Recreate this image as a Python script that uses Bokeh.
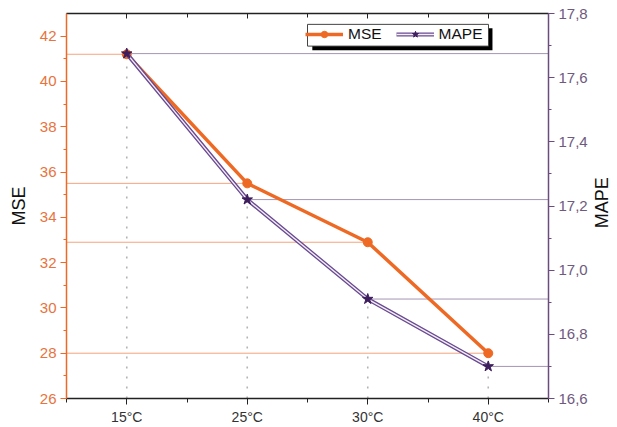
import math
from bokeh.plotting import figure
from bokeh.models import (Range1d, LinearAxis, FixedTicker, CustomJSTickFormatter,
                          Legend, LegendItem, ColumnDataSource, Label)
from bokeh.embed import file_html
from bokeh.resources import INLINE

# ---- data ----
temps = ["15°C", "25°C", "30°C", "40°C"]
mse = [41.2, 35.5, 32.9, 28.0]
mape = [17.675, 17.22, 16.91, 16.70]

mse_ticks = [26, 28, 30, 32, 34, 36, 38, 40, 42]
mape_ticks = [16.6, 16.8, 17.0, 17.2, 17.4, 17.6, 17.8]

ORANGE = "#EE6A24"
ORANGE_TXT = "#E8733D"
PURPLE_AX = "#6B4C7E"
PURPLE_TXT = "#6E5A80"
PURPLE_LINE = "#6A4A90"
STAR = "#3D1D5C"
FONT = "Liberation Sans"

xs = list(range(len(temps)))
x_lo, x_hi = -0.5, len(temps) - 0.5
y_lo, y_hi = 26, 43
m_lo, m_hi = 16.6, 17.8

p = figure(width=617, height=427, output_backend="svg", toolbar_location=None,
           x_range=Range1d(x_lo, x_hi), y_range=Range1d(y_lo, y_hi),
           min_border_left=66, min_border_right=69, min_border_top=13,
           min_border_bottom=26, x_axis_location=None, y_axis_location=None)
p.extra_y_ranges = {"mape": Range1d(m_lo, m_hi)}
p.outline_line_color = None
p.xgrid.visible = False
p.ygrid.visible = False
p.background_fill_color = "white"
p.border_fill_color = "white"

src = ColumnDataSource(dict(x=xs, mse=mse, mape=mape,
                            xl=[x_lo] * len(xs), xr=[x_hi] * len(xs),
                            mb=[m_lo] * len(xs)))

# drop lines
p.segment(x0="xl", y0="mse", x1="x", y1="mse", source=src,
          line_color="#F4A47E", line_width=1)
p.segment(x0="x", y0="mape", x1="xr", y1="mape", source=src,
          line_color="#A495B5", line_width=1, y_range_name="mape")
p.segment(x0="x", y0="mb", x1="x", y1="mape", source=src,
          line_color="#B4B4B4", line_width=1.6, line_dash="2 8",
          y_range_name="mape")

# MSE series
r_mse_l = p.line("x", "mse", source=src, line_color=ORANGE, line_width=3.5)
r_mse_m = p.scatter("x", "mse", source=src, marker="circle", size=9,
                    fill_color=ORANGE, line_color=ORANGE)

# MAPE series (double line)
r_mape_o = p.line("x", "mape", source=src, line_color=PURPLE_LINE,
                  line_width=4, y_range_name="mape")
r_mape_i = p.line("x", "mape", source=src, line_color="#F4EEF8",
                  line_width=1.4, y_range_name="mape")
r_mape_m = p.scatter("x", "mape", source=src, marker="star", size=11,
                     fill_color=STAR, line_color=STAR, y_range_name="mape")

# legend frame with drop shadow (decoration, in data space)
p.quad(left=[1.54], right=[3.035], top=[42.35], bottom=[41.38],
       fill_color="black", line_color=None)
p.quad(left=[1.50], right=[3.002], top=[42.52], bottom=[41.56],
       fill_color="white", line_color="#444444", line_width=1)

# axes
left = LinearAxis(ticker=FixedTicker(ticks=mse_ticks,
                                     minor_ticks=[v + 1 for v in mse_ticks[:-1]]),
                  axis_label="MSE")
left.axis_line_color = ORANGE
left.axis_line_width = 1.5
left.major_tick_line_color = ORANGE
left.minor_tick_line_color = ORANGE
left.major_tick_out = 6
left.major_tick_in = 0
left.minor_tick_out = 3
left.minor_tick_in = 0
left.major_label_text_color = ORANGE_TXT
left.major_label_text_font = FONT
left.major_label_text_font_size = "15px"
left.major_label_standoff = 4
left.axis_label_text_font = FONT
left.axis_label_text_font_size = "18px"
left.axis_label_text_font_style = "normal"
left.axis_label_text_color = "#111111"
left.axis_label_standoff = 8
p.add_layout(left, "left")

right = LinearAxis(y_range_name="mape",
                   ticker=FixedTicker(ticks=mape_ticks,
                                      minor_ticks=[round(v + 0.1, 1) for v in mape_ticks[:-1]]),
                   formatter=CustomJSTickFormatter(code="return tick.toFixed(1).replace('.', ',');"))
right.axis_line_color = PURPLE_AX
right.axis_line_width = 1.5
right.major_tick_line_color = PURPLE_AX
right.minor_tick_line_color = PURPLE_AX
right.major_tick_out = 6
right.major_tick_in = 0
right.minor_tick_out = 3
right.minor_tick_in = 0
right.major_label_text_color = PURPLE_TXT
right.major_label_text_font = FONT
right.major_label_text_font_size = "15px"
right.major_label_standoff = 4
p.add_layout(right, "right")

# right axis title, reading bottom-to-top like the reference
p.add_layout(Label(x=x_hi + 0.44, y=(m_lo + m_hi) / 2 + 0.01, y_range_name="mape",
                   text="MAPE", angle=math.pi / 2, text_align="center",
                   text_baseline="middle", text_font=FONT,
                   text_font_size="18px", text_color="#111111"), "right")

minor_x = [x_lo + i for i in range(len(temps) + 1)]
bottom = LinearAxis(ticker=FixedTicker(ticks=xs, minor_ticks=minor_x),
                    major_label_overrides={i: t for i, t in enumerate(temps)})
bottom.axis_line_color = "#222222"
bottom.axis_line_width = 1.5
bottom.major_tick_line_color = "#222222"
bottom.minor_tick_line_color = "#222222"
bottom.major_tick_out = 6
bottom.major_tick_in = 0
bottom.minor_tick_out = 4
bottom.minor_tick_in = 0
bottom.major_label_text_color = "#333333"
bottom.major_label_text_font = FONT
bottom.major_label_text_font_size = "14px"
bottom.major_label_standoff = 4
p.add_layout(bottom, "below")

top = LinearAxis(ticker=FixedTicker(ticks=xs, minor_ticks=minor_x),
                 major_label_overrides={i: "" for i in xs})
top.axis_line_color = "#222222"
top.axis_line_width = 1.5
top.major_tick_line_color = "#222222"
top.minor_tick_line_color = "#222222"
top.major_tick_out = 0
top.major_tick_in = 5
top.minor_tick_out = 0
top.minor_tick_in = 4
top.major_label_text_font_size = "1px"
top.major_label_standoff = 0
p.add_layout(top, "above")

legend = Legend(items=[LegendItem(label="MSE", renderers=[r_mse_l, r_mse_m]),
                       LegendItem(label="MAPE", renderers=[r_mape_o, r_mape_i, r_mape_m])],
                location=(239, 355), orientation="horizontal",
                background_fill_alpha=0, border_line_color=None,
                padding=3, margin=0, spacing=14, glyph_width=38,
                glyph_height=16, label_height=16, label_standoff=5,
                label_text_font=FONT, label_text_font_size="15.5px",
                label_text_color="#111111")
p.add_layout(legend, "center")

open("out.html", "w").write(file_html(p, INLINE))
